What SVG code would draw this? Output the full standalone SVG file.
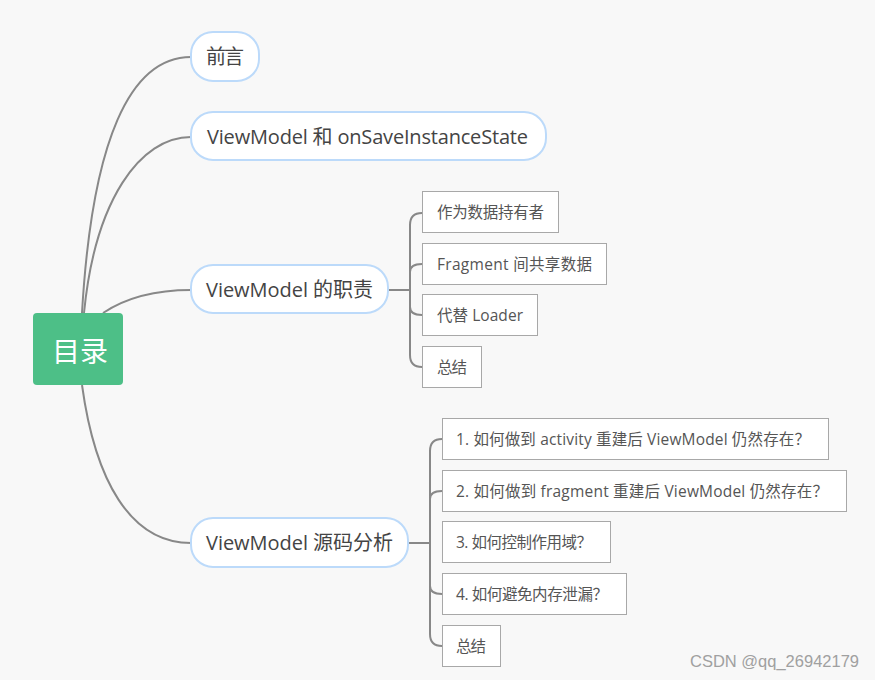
<svg xmlns="http://www.w3.org/2000/svg" width="875" height="680" viewBox="0 0 875 680">
<style>
.bg{fill:#f8f8f8}
.conn{fill:none;stroke:#888888;stroke-width:2}
.root{fill:#4dbf87}
.pill{fill:#ffffff;stroke:#bcdafa;stroke-width:2}
.box{fill:#ffffff;stroke:#a8a8a8;stroke-width:1}
text{font-family:"Open Sans","Noto Sans CJK SC",sans-serif}
.rt{fill:#ffffff;font-size:28px}
.bt{fill:#444444;font-size:20px}
.ct{fill:#555555;font-size:15.5px}
.wm{fill:#a0a0a0;font-size:16.5px;font-family:"Liberation Sans",sans-serif}
</style>
<rect class="bg" x="0" y="0" width="875" height="680"/>
<g id="connectors">
<path class="conn" d="M82,313 C92,140 130,57 191,57"/>
<path class="conn" d="M84,313 C95,200 140,137 191,137"/>
<path class="conn" d="M103,313 C130,295 160,290 191,290"/>
<path class="conn" d="M82,385 C95,480 130,543 191,543"/>
<path class="conn" d="M388,290 L410,290"/>
<path class="conn" d="M422,213 C414,213 410,217 410,225 L410,355 C410,363 414,367 422,367"/>
<path class="conn" d="M410,272 C410,267 414,264 422,264"/>
<path class="conn" d="M410,307 C410,312 414,315 422,315"/>
<path class="conn" d="M408,543 L430,543"/>
<path class="conn" d="M442,439 C434,439 430,443 430,451 L430,634 C430,642 434,646 442,646"/>
<path class="conn" d="M430,499 C430,494 434,491 442,491"/>
<path class="conn" d="M430,586 C430,591 434,594 442,594"/>
</g>
<g id="root">
<rect class="root" x="33" y="313" width="90" height="72" rx="4"/>
<text class="rt" x="80" y="362" text-anchor="middle">目录</text>
</g>
<g id="n-preface">
<rect class="pill" x="191" y="32" width="68" height="49" rx="22"/>
<text class="bt" x="225" y="64" text-anchor="middle" textLength="38">前言</text>
</g>
<g id="n-save">
<rect class="pill" x="191" y="112" width="355" height="48" rx="22"/>
<text class="bt" x="207" y="144" textLength="321">ViewModel 和 onSaveInstanceState</text>
</g>
<g id="n-duty">
<rect class="pill" x="191" y="265" width="197" height="48" rx="22"/>
<text class="bt" x="206" y="297" textLength="167">ViewModel 的职责</text>
</g>
<g id="n-source">
<rect class="pill" x="191" y="518" width="217" height="49" rx="22"/>
<text class="bt" x="206" y="550" textLength="187">ViewModel 源码分析</text>
</g>
<g id="c-holder">
<rect class="box" x="422.5" y="191.5" width="136" height="41"/>
<text class="ct" x="437" y="218" textLength="107">作为数据持有者</text>
</g>
<g id="c-share">
<rect class="box" x="422.5" y="243.5" width="184" height="41"/>
<text class="ct" x="437" y="270" textLength="155">Fragment 间共享数据</text>
</g>
<g id="c-loader">
<rect class="box" x="422.5" y="294.5" width="115" height="41"/>
<text class="ct" x="437" y="321" textLength="86">代替 Loader</text>
</g>
<g id="c-sum1">
<rect class="box" x="422.5" y="346.5" width="59" height="41"/>
<text class="ct" x="437" y="373" textLength="30">总结</text>
</g>
<g id="c-q1">
<rect class="box" x="442.5" y="418.5" width="386" height="41"/>
<text class="ct" x="456" y="445" textLength="354">1. 如何做到 activity 重建后 ViewModel 仍然存在？</text>
</g>
<g id="c-q2">
<rect class="box" x="442.5" y="470.5" width="404" height="41"/>
<text class="ct" x="456" y="497" textLength="372">2. 如何做到 fragment 重建后 ViewModel 仍然存在？</text>
</g>
<g id="c-q3">
<rect class="box" x="442.5" y="521.5" width="168" height="41"/>
<text class="ct" x="456" y="548" textLength="136">3. 如何控制作用域？</text>
</g>
<g id="c-q4">
<rect class="box" x="442.5" y="573.5" width="184" height="41"/>
<text class="ct" x="456" y="600" textLength="152">4. 如何避免内存泄漏？</text>
</g>
<g id="c-sum2">
<rect class="box" x="442.5" y="625.5" width="58" height="41"/>
<text class="ct" x="456" y="652" textLength="30">总结</text>
</g>
<text class="wm" x="690" y="667">CSDN @qq_26942179</text>
</svg>
